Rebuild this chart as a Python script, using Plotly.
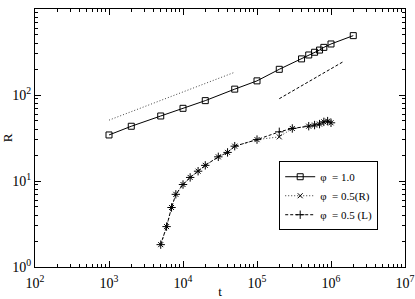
import plotly.graph_objects as go


# ==========================================================
# Data
# ==========================================================

t_phi1 = [1e3, 2e3, 5e3, 1e4, 2e4, 5e4, 1e5, 2e5, 4e5, 5e5, 6e5, 7e5, 8e5, 1e6, 2e6]
r_phi1 = [34.3, 43.3, 57, 70, 86, 117, 146, 199, 263, 292, 314, 333, 358, 392, 490]

t_half = [5e3, 6e3, 7e3, 8e3, 1e4, 1.25e4, 1.6e4, 2e4, 3e4, 4e4, 5e4,
          1e5, 2e5, 3e5, 5e5, 6e5, 7e5, 8e5, 9e5, 1e6]
r_half_R = [1.82, 2.95, 4.92, 7.0, 9.1, 11.0, 13.0, 15.2, 19.1, 21.5, 25.4,
            30.3, 32.6, 40.8, 43.4, 44.7, 45.9, 48.7, 49.7, 47.5]
r_half_L = [1.82, 2.95, 4.92, 7.0, 9.1, 11.0, 13.0, 15.2, 19.1, 21.5, 25.4,
            30.3, 37.3, 40.8, 43.4, 44.7, 45.9, 48.7, 49.7, 47.5]

# guide lines (slope 1/3 dotted, slope 1/2 dashed)
t_guide_third = [1e3, 5e4]
r_guide_third = [51, 184]
t_guide_half = [2e5, 1.5e6]
r_guide_half = [90.6, 247]

x_tickvals = [1e2, 1e3, 1e4, 1e5, 1e6, 1e7]
x_ticktext = ["10<sup>2</sup>", "10<sup>3</sup>", "10<sup>4</sup>",
              "10<sup>5</sup>", "10<sup>6</sup>", "10<sup>7</sup>"]
y_tickvals = [1, 10, 100, 1000]
y_ticktext = ["10<sup>0</sup>", "10<sup>1</sup>", "10<sup>2</sup>", "10<sup>3</sup>"]

FONT = "Liberation Serif"


# ==========================================================
# Figure
# ==========================================================

fig = go.Figure()

fig.add_trace(go.Scatter(
    x=t_guide_third, y=r_guide_third,
    mode="lines",
    line=dict(color="#444", width=1, dash="1px,2px"),
    showlegend=False,
))

fig.add_trace(go.Scatter(
    x=t_guide_half, y=r_guide_half,
    mode="lines",
    line=dict(color="black", width=1, dash="3px,2px"),
    showlegend=False,
))

fig.add_trace(go.Scatter(
    x=t_phi1, y=r_phi1,
    mode="lines+markers",
    name="\u03c6  = 1.0",
    line=dict(color="black", width=1),
    marker=dict(symbol="square-open", size=6, color="black",
                line=dict(width=1)),
))

fig.add_trace(go.Scatter(
    x=t_half, y=r_half_R,
    mode="lines+markers",
    name="\u03c6  = 0.5(R)",
    line=dict(color="#333", width=1, dash="1px,2px"),
    marker=dict(symbol="x-thin", size=5, color="black",
                line=dict(width=1, color="black")),
))

fig.add_trace(go.Scatter(
    x=t_half, y=r_half_L,
    mode="lines+markers",
    name="\u03c6  = 0.5 (L)",
    line=dict(color="black", width=1, dash="3px,2px"),
    marker=dict(symbol="cross-thin", size=6, color="black",
                line=dict(width=1, color="black")),
))

minor_x = [m * 10 ** e for e in range(2, 7) for m in range(2, 10)]
minor_y = [m * 10 ** e for e in range(0, 3) for m in range(2, 10)]

axis_style = dict(
    showline=True,
    linecolor="black",
    linewidth=1,
    mirror="ticks",
    ticks="inside",
    ticklen=6,
    tickcolor="black",
    showgrid=False,
    zeroline=False,
    automargin=False,
    tickfont=dict(family=FONT, size=14, color="black"),
)

fig.update_xaxes(
    type="log",
    range=[2, 7],
    tickvals=x_tickvals,
    ticktext=x_ticktext,
    ticklabelstandoff=3,
    minor=dict(tickvals=minor_x, ticks="inside", ticklen=3,
               tickcolor="black", showgrid=False),
    title=dict(text="t", font=dict(family=FONT, size=13, color="black"),
               standoff=0),
    **axis_style,
)

fig.update_yaxes(
    type="log",
    range=[0, 3],
    tickvals=y_tickvals,
    ticktext=y_ticktext,
    minor=dict(tickvals=minor_y, ticks="inside", ticklen=3,
               tickcolor="black", showgrid=False),
    title=dict(text="R", font=dict(family=FONT, size=13, color="black"),
               standoff=2),
    **axis_style,
)

fig.update_layout(
    width=415,
    height=299,
    margin=dict(
        l=35,
        r=10,
        t=9,
        b=32,
    ),
    plot_bgcolor="white",
    paper_bgcolor="white",
    font=dict(family=FONT, color="black"),
    legend=dict(
        x=0.66,
        y=0.41,
        xanchor="left",
        yanchor="top",
        bgcolor="white",
        bordercolor="black",
        borderwidth=1,
        font=dict(family=FONT, size=11, color="black"),
        tracegroupgap=0,
        itemwidth=30,
    ),
)

# page body has a default 8px margin; drop it so the figure sits at 0,0
fig.write_html(
    "out.html",
    config={"displayModeBar": False},
    post_script="document.body.style.margin='0';",
)
